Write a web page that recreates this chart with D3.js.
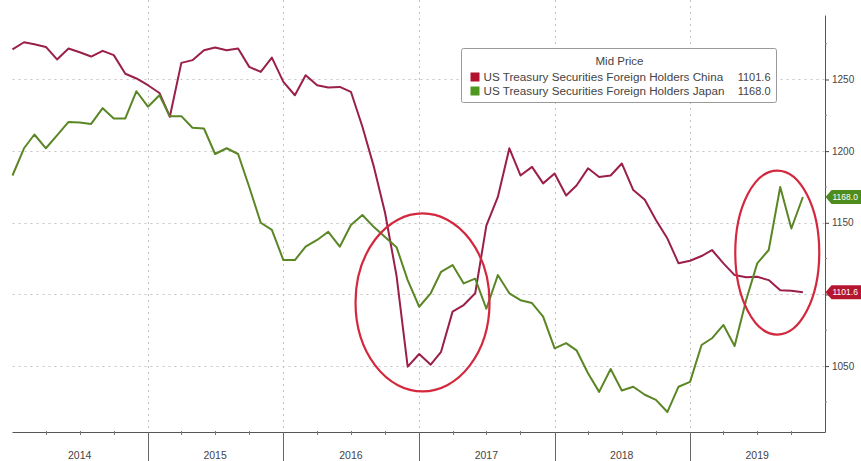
<!DOCTYPE html>
<html>
<head>
<meta charset="utf-8">
<script src="https://cdn.jsdelivr.net/npm/d3@7"></script>
<style>
	html, body { margin:0; padding:0; background:#fff; }
	svg { display:block; font-family:"Liberation Sans", Arial, sans-serif; }
</style>
</head>
<body>
<svg width="861" height="461"></svg>
<script>
// monthly values, Dec 2013 .. Oct 2019 (USD bn)
const firstMonth = "2013-12";
const china = [
	1271,
	1276, 1274.6, 1272.7, 1264, 1271.6, 1269, 1266, 1270, 1267, 1254, 1250.7, 1246,
	1240.6, 1224, 1261.6, 1263.5, 1270.4, 1272.3, 1270.4, 1271.6, 1258.8, 1255.3, 1265.3, 1248.3,
	1239, 1253, 1246, 1244.4, 1244.8, 1241.4, 1217, 1189, 1157, 1113, 1049.6, 1058.4,
	1051, 1060, 1088, 1092.6, 1100.8, 1148, 1168, 1202, 1183, 1189, 1177.5, 1184.4,
	1169, 1176, 1188, 1182, 1183, 1191.4, 1172.8, 1166, 1152, 1139, 1121.7, 1123.5,
	1126.8, 1131, 1121.7, 1113.5, 1112, 1112.3, 1110, 1103, 1102.6, 1101.6
];
const japan = [
	1183,
	1202, 1211.6, 1202, 1211, 1220.4, 1220, 1219, 1230, 1222.8, 1222.8, 1241.8, 1231,
	1239, 1224.4, 1224.4, 1216.3, 1215.8, 1198, 1202, 1198, 1175, 1150, 1145, 1124,
	1124, 1133.3, 1138, 1143.7, 1133.3, 1148.4, 1155.4, 1147, 1140, 1133, 1110, 1091.4,
	1100.8, 1115.8, 1120.5, 1107.7, 1111, 1090, 1113.5, 1100.8, 1096, 1094, 1084.5, 1062.4,
	1066, 1061, 1045, 1032, 1048, 1033, 1035.6, 1030, 1026.4, 1018, 1035.6, 1039,
	1064.7, 1069.4, 1078.7, 1064, 1096, 1121.7, 1131, 1175, 1146, 1168
];
const seriesNames = ["US Treasury Securities Foreign Holders China", "US Treasury Securities Foreign Holders Japan"];
const lastLabels = ["1101.6", "1168.0"];
const years = [2014, 2015, 2016, 2017, 2018, 2019];
const yTicks = [1050, 1100, 1150, 1200, 1250];
const yMinor = [1025, 1075, 1125, 1175, 1225, 1275];
// hand drawn rings: centre date, centre value
const rings = [
	{date:"2017-01-10", value:1094.4, rx:67, ry:89},
	{date:"2019-08-24", value:1129.2, rx:42, ry:82},
];

const lineColours = ['#9a1f4b', '#5b8626'];
const swatchColours = ['#b3122f', '#4f981f'];
const tagColours = ['#b5152f', '#4e8d1d'];

let svg = d3.select("svg");
let width = +svg.attr("width");
let height = +svg.attr("height");

const plot = {left:12.5, right:825.5, top:15, bottom:432};

let parseMonth = d3.timeParse("%Y-%m");
let parseDay = d3.timeParse("%Y-%m-%d");
let months = d3.timeMonth.range(parseMonth(firstMonth), d3.timeMonth.offset(parseMonth(firstMonth), china.length));
// points sit at the end of their month
let dates = months.map(function(m){ return d3.timeMonth.offset(m, 1); });

let x = d3.scaleTime()
	.domain([new Date(years[0], 0, 1), new Date(years[years.length-1] + 1, 0, 1)])
	.range([plot.left, plot.right]);
let y = d3.scaleLinear()
	.domain([1004, 1295])
	.range([plot.bottom, plot.top]);

let lastVals = [china[china.length-1], japan[japan.length-1]];

// grid
let grid = svg.append("g").attr("class", "grid")
	.attr("stroke", "#c4c4c4")
	.attr("stroke-width", 1)
	.attr("stroke-dasharray", "2,4");
grid.selectAll("line.h").data(yTicks).enter().append("line")
	.attr("class", "h")
	.attr("x1", plot.left)
	.attr("x2", plot.right)
	.attr("y1", function(d){ return Math.round(y(d)) + 0.5; })
	.attr("y2", function(d){ return Math.round(y(d)) + 0.5; });
grid.selectAll("line.v").data(years.slice(1)).enter().append("line")
	.attr("class", "v")
	.attr("x1", function(d){ return Math.round(x(new Date(d, 0, 1))) + 0.5; })
	.attr("x2", function(d){ return Math.round(x(new Date(d, 0, 1))) + 0.5; })
	.attr("y1", 0)
	.attr("y2", plot.bottom);

// bottom axis
let bottom = svg.append("g").attr("class", "xaxis");
bottom.append("line")
	.attr("x1", plot.left).attr("x2", plot.right)
	.attr("y1", plot.bottom + 0.5).attr("y2", plot.bottom + 0.5)
	.attr("stroke", "#555");
let quarters = d3.timeMonth.every(3).range(x.domain()[0], x.domain()[1])
	.filter(function(d){ return d.getMonth() != 0; });
bottom.selectAll("line.q").data(quarters).enter().append("line")
	.attr("class", "q")
	.attr("x1", function(d){ return Math.round(x(d)) + 0.5; })
	.attr("x2", function(d){ return Math.round(x(d)) + 0.5; })
	.attr("y1", plot.bottom - 1)
	.attr("y2", plot.bottom + 3)
	.attr("stroke", "#777");
bottom.selectAll("line.sep").data(years.slice(1)).enter().append("line")
	.attr("class", "sep")
	.attr("x1", function(d){ return Math.round(x(new Date(d, 0, 1))) + 0.5; })
	.attr("x2", function(d){ return Math.round(x(new Date(d, 0, 1))) + 0.5; })
	.attr("y1", plot.bottom)
	.attr("y2", height)
	.attr("stroke", "#666");
bottom.selectAll("text").data(years).enter().append("text")
	.attr("x", function(d){ return x(new Date(d, 6, 1)); })
	.attr("y", 459)
	.attr("text-anchor", "middle")
	.attr("font-size", "10.5px")
	.attr("fill", "#444")
	.text(function(d){ return d; });

// right axis, labels sitting under a last value tag are hidden like the original
function underTag(v){
	return lastVals.some(function(l){ return Math.abs(y(l) - y(v)) < 11; });
}
let right = svg.append("g").attr("class", "yaxis")
	.attr("transform", "translate(" + (plot.right - 0.5) + ",0)")
	.call(d3.axisRight(y).tickValues(yTicks).tickSize(4).tickSizeOuter(0).tickPadding(3)
		.tickFormat(function(d){ return underTag(d) ? "" : d3.format("d")(d); }));
right.select(".domain").attr("stroke", "#555");
right.selectAll(".tick line").attr("stroke", "#444");
right.selectAll(".tick text")
	.attr("font-family", "Liberation Sans Narrow, Liberation Sans, sans-serif")
	.attr("font-size", "10px")
	.attr("fill", "#444");
right.selectAll("line.minor").data(yMinor).enter().append("line")
	.attr("class", "minor")
	.attr("x1", 0).attr("x2", 2)
	.attr("y1", function(d){ return y(d); })
	.attr("y2", function(d){ return y(d); })
	.attr("stroke", "#888");

// lines
let line = d3.line()
	.x(function(d, i){ return x(dates[i]); })
	.y(function(d){ return y(d); });

svg.append("g").attr("class", "lines")
	.selectAll("path")
	.data([china, japan])
	.enter().append("path")
		.attr("d", line)
		.attr("fill", "none")
		.attr("stroke", function(d, i){ return lineColours[i]; })
		.attr("stroke-width", 2)
		.attr("stroke-linejoin", "round");

// rings
svg.append("g").attr("class", "rings")
	.selectAll("ellipse")
	.data(rings)
	.enter().append("ellipse")
		.attr("cx", function(d){ return x(parseDay(d.date)); })
		.attr("cy", function(d){ return y(d.value); })
		.attr("rx", function(d){ return d.rx; })
		.attr("ry", function(d){ return d.ry; })
		.attr("fill", "none")
		.attr("stroke", "#d3283e")
		.attr("stroke-width", 2.2);

// last value tags on the right (shrunk a touch so the text fits the page)
let tags = svg.append("g").attr("class", "tags")
	.selectAll("g")
	.data(lastVals)
	.enter().append("g")
		.attr("transform", function(d){ return "translate(" + plot.right + "," + y(d) + ")"; });
tags.append("path")
	.attr("d", "M0,0L6,-7L60,-7L60,7L6,7Z")
	.attr("fill", function(d, i){ return tagColours[i]; });
tags.append("text")
	.attr("x", 7)
	.attr("y", 3)
	.attr("font-family", "Liberation Sans Narrow, Liberation Sans, sans-serif")
	.attr("font-size", "8.5px")
	.attr("fill", "#fff")
	.text(function(d, i){ return lastLabels[i]; });

// legend
let legend = svg.append("g").attr("class", "legend").attr("transform", "translate(461.5,48.5)");
legend.append("rect")
	.attr("width", 315)
	.attr("height", 54)
	.attr("rx", 2)
	.attr("fill", "#fff")
	.attr("stroke", "#9a9a9a");
legend.append("text")
	.attr("x", 158)
	.attr("y", 16)
	.attr("text-anchor", "middle")
	.attr("font-size", "11.5px")
	.attr("fill", "#444")
	.text("Mid Price");
let rows = legend.selectAll("g.row")
	.data(seriesNames)
	.enter().append("g")
		.attr("class", "row")
		.attr("transform", function(d, i){ return "translate(0," + (28 + i * 14) + ")"; });
rows.append("rect")
	.attr("x", 9).attr("y", -4)
	.attr("width", 9).attr("height", 9)
	.attr("fill", function(d, i){ return swatchColours[i]; });
rows.append("text")
	.attr("x", 22).attr("y", 4.5)
	.attr("font-size", "11.7px")
	.attr("fill", "#444")
	.text(function(d){ return d; });
rows.append("text")
	.attr("x", 309).attr("y", 4.5)
	.attr("text-anchor", "end")
	.attr("font-size", "11px")
	.attr("fill", "#444")
	.text(function(d, i){ return lastLabels[i]; });
</script>
</body>
</html>
